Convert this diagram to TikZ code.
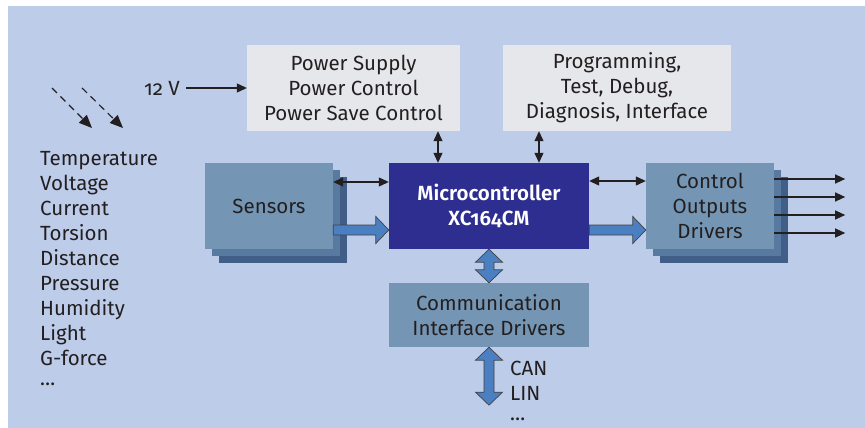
\documentclass[tikz,border=0pt]{standalone}
\usepackage{fontspec}
\setmainfont[Numbers=OldStyle, BoldFont=* SemiBold]{Fira Sans}
\usetikzlibrary{arrows.meta,calc,shadows}

\definecolor{bgblue}{HTML}{BCCCE9}
\definecolor{boxgray}{HTML}{E6E7EA}
\definecolor{boxblue}{HTML}{7496B4}
\definecolor{midblue}{HTML}{587AA0}
\definecolor{deepblue}{HTML}{405E87}
\definecolor{mcblue}{HTML}{2E2E91}
\definecolor{fatblue}{HTML}{4A7FC1}
\definecolor{ink}{HTML}{231F20}

\tikzset{
  txt/.style={font=\fontsize{20.5}{25}\selectfont, text=ink, align=center},
  graybox/.style={txt, fill=boxgray, minimum height=86pt},
  stackbox/.style={txt, fill=boxblue, minimum width=128pt, minimum height=86pt,
    general shadow={shadow xshift=14pt, shadow yshift=-14pt, fill=deepblue},
    general shadow={shadow xshift=7pt, shadow yshift=-7pt, fill=midblue}},
  mcbox/.style={txt, fill=mcblue, text=white, font=\fontsize{20.5}{25}\selectfont\bfseries,
    minimum width=200pt, minimum height=86pt},
  thinarrow/.style={draw=ink, line width=1.1pt, -{Triangle[length=10pt,width=9pt]}},
  thinboth/.style={thinarrow, {Triangle[length=10pt,width=9pt]}-{Triangle[length=10pt,width=9pt]}},
  dasharrow/.style={draw=ink, line width=1.1pt, dash pattern=on 7pt off 5pt,
    -{Triangle[length=13pt,width=11pt]}},
  fatarrow/.style={fill=fatblue, draw=ink!85, line width=0.7pt, line join=miter},
  fat right/.style={fatarrow, to path={
    ($(\tikztostart)+(0,-5)$) -- ($(\tikztotarget)+(-13,-5)$) -- ++(0,-8.5)
    -- (\tikztotarget) -- ++(-13,13.5) -- ++(0,-8.5) -- ($(\tikztostart)+(0,5)$) -- cycle}},
  fat both/.style={fatarrow, to path={
    (\tikztostart) -- ++(13.5,13) -- ++(-8.5,0) -- ($(\tikztotarget)+(5,-13)$) -- ++(8.5,0)
    -- (\tikztotarget) -- ++(-13.5,-13) -- ++(8.5,0) -- ($(\tikztostart)+(-5,13)$) -- ++(-8.5,0) -- cycle}}
}

\begin{document}
\begin{tikzpicture}[x=1pt, y=-1pt]
        % Background
        \useasboundingbox (0,0) rectangle (865,428);
        \fill[bgblue] (8,6) rectangle (865,428);

        % Blocks
        \node[graybox, minimum width=213pt] (power) at (353.5,88) {Power Supply\\Power Control\\Power Save Control};
        \node[graybox, minimum width=228pt] (prog) at (617,88) {Programming,\\Test, Debug,\\Diagnosis, Interface};
        \node[stackbox] (sens) at (269,206) {Sensors};
        \node[mcbox] (mc) at (489,206) {Microcontroller\\XC164CM};
        \node[stackbox] (ctrl) at (710,206) {Control\\Outputs\\Drivers};
        \node[txt, fill=boxblue, minimum width=200pt, minimum height=64pt] (comm) at (489,315) {Communication\\Interface Drivers};

        % Labels
        \node[txt] (volt) at (162,88) {12 V};
        \node[txt, align=left, anchor=north west, inner sep=0pt] (quant) at (40,151)
            {Temperature\\Voltage\\Current\\Torsion\\Distance\\Pressure\\Humidity\\Light\\G-force\\[-5pt]\dots};
        \node[txt, align=left, anchor=north west, inner sep=0pt] (bus) at (510,361) {CAN\\LIN\\[-5pt]\dots};

        % Dashed arrows
        \coordinate (d1s) at (52,88);  \coordinate (d1e) at (92,128);
        \coordinate (d2s) at (82,88);  \coordinate (d2e) at (123,128);
        \draw[dasharrow] (d1s) -- (d1e);
        \draw[dasharrow] (d2s) -- (d2e);

        % Thin connectors
        \draw[thinarrow, shorten <=3pt] (volt.east) -- (power.west);
        \coordinate (mcp) at ([xshift=-51pt]mc.north);
        \coordinate (mcd) at ([xshift=50pt]mc.north);
        \draw[thinboth] (power.south -| mcp) -- (mcp);
        \draw[thinboth] (prog.south -| mcd) -- (mcd);
        \draw[thinboth] ([yshift=24pt]sens.east) -- ([yshift=24pt]mc.west);
        \draw[thinboth] ([yshift=25pt]mc.east) -- ([yshift=25pt]ctrl.west);
        \foreach \dy [count=\i] in {27,9,-9,-27} {
            \coordinate (out\i) at ([shift={(71pt,\dy pt)}]ctrl.east);
            \draw[thinarrow] ([yshift=\dy pt]ctrl.east) -- (out\i);
        }

        % Data paths
        \coordinate (sin) at ([yshift=-24pt]sens.east);
        \coordinate (min) at ([yshift=-24pt]mc.west);
        \coordinate (mout) at ([yshift=-24pt]mc.east);
        \coordinate (cin) at ([yshift=-24pt]ctrl.west);
        \coordinate (busend) at ([yshift=-58pt]comm.south);
        \draw[fat right] (sin) to (min);
        \draw[fat right] (mout) to (cin);
        \draw[fat both] (mc.south) to (comm.north);
        \draw[fat both] (comm.south) to (busend);

    \end{tikzpicture}
\end{document}
